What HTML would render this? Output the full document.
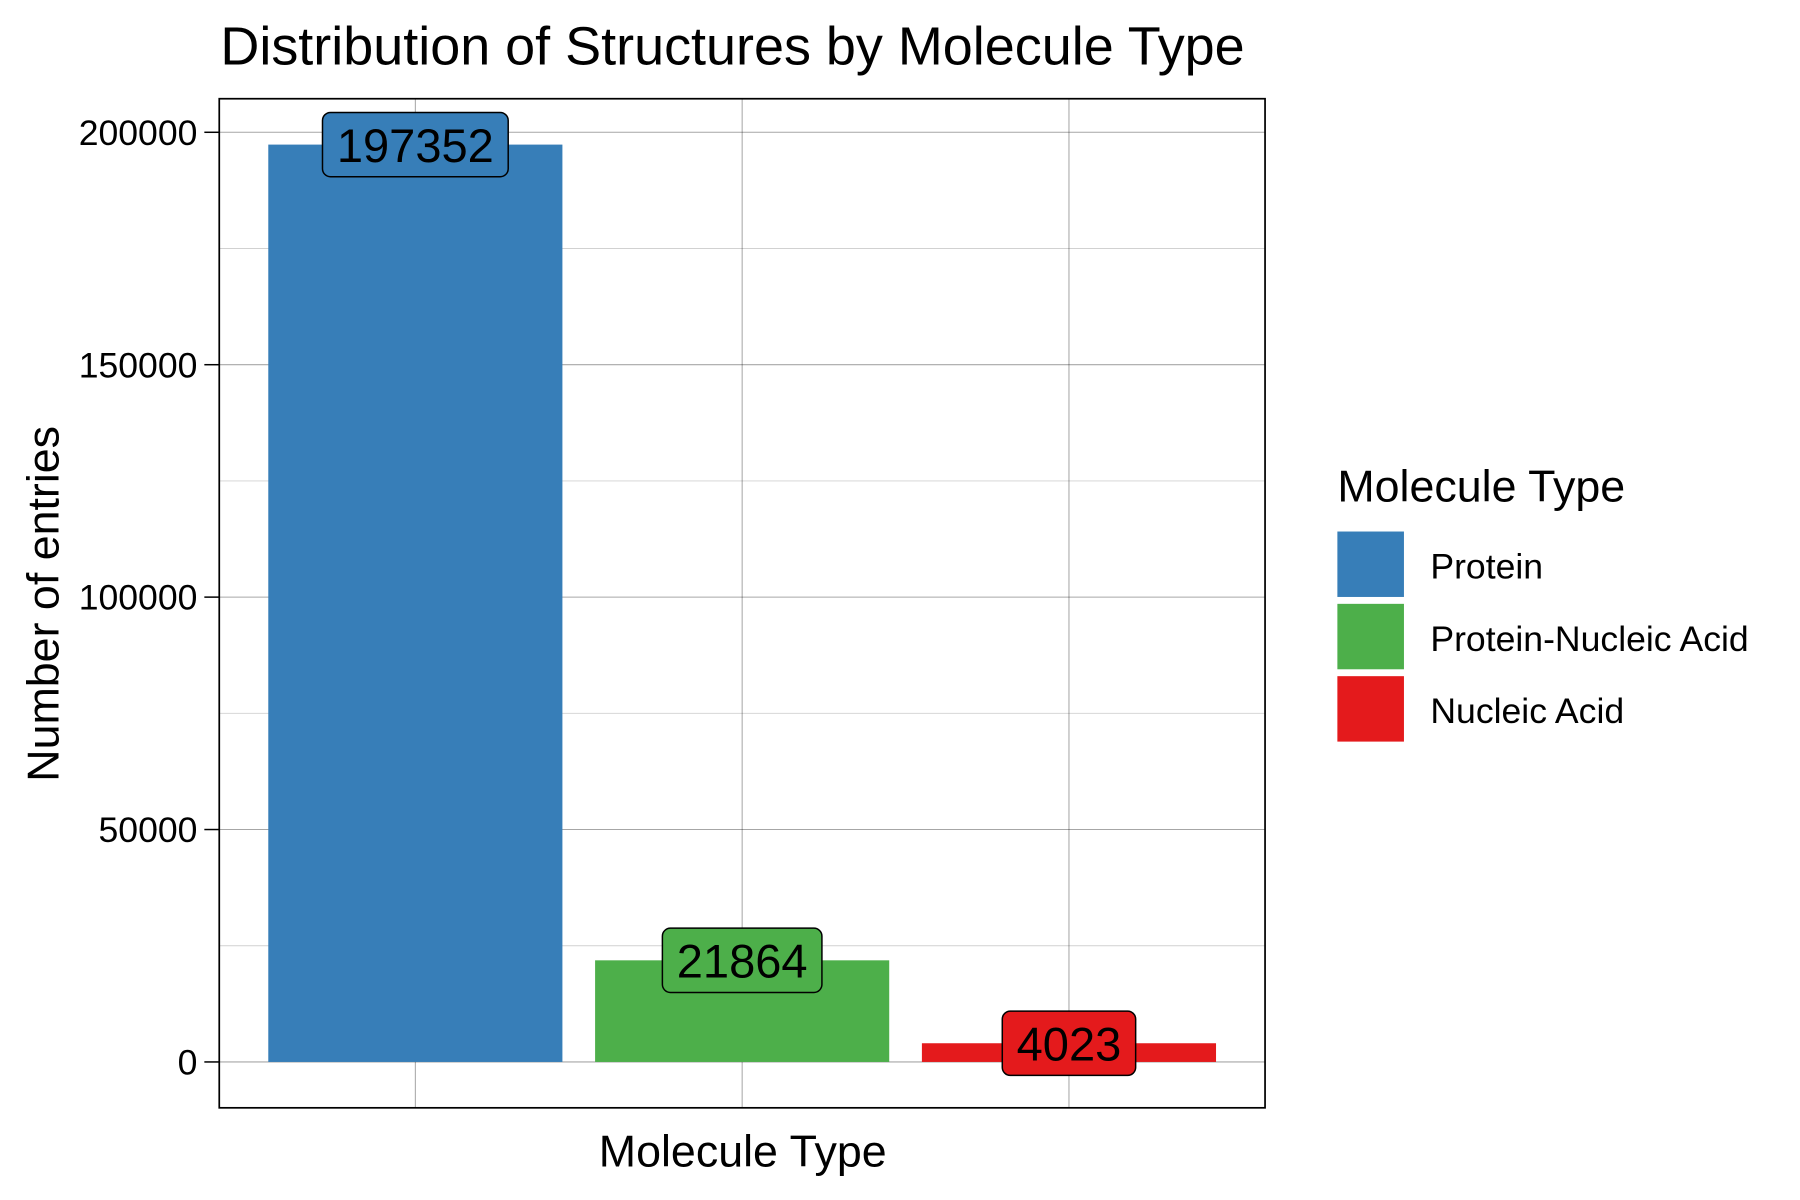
<!DOCTYPE html>
<html><head><meta charset="utf-8"><style>html,body{margin:0;padding:0;background:#fff;}svg{display:block;}text{font-family:"Liberation Sans",sans-serif;}</style></head>
<body>
<svg id="chart" width="1800" height="1200" viewBox="0 0 1568 1045.3" preserveAspectRatio="none" xmlns="http://www.w3.org/2000/svg">
<text x="192" y="56" font-size="47">Distribution of Structures by Molecule Type</text>
<g id="grid"></g><g id="bars"></g><g id="labels"></g><g id="axes"></g>
<rect x="191" y="86" width="911" height="879" fill="none" stroke="#000" stroke-width="1.5"/>
<text transform="translate(51,526) rotate(-90)" text-anchor="middle" font-size="39">Number of entries</text>
<text x="647" y="1016" text-anchor="middle" font-size="39">Molecule Type</text>
<g id="legend"><text x="1165" y="437" font-size="39">Molecule Type</text></g>
</svg>
<script>
const categories = ["Protein", "Protein-Nucleic Acid", "Nucleic Acid"];
const values = [197352, 21864, 4023];
const colors = ["#377EB8", "#4DAF4A", "#E41A1C"];
const yTicks = [0, 50000, 100000, 150000, 200000];
const yMinor = [25000, 75000, 125000, 175000];

const NS = "http://www.w3.org/2000/svg";
const L = 191, R = 1102, T = 86, B = 965;
const maxV = Math.max(...values);
const yLo = -0.05 * maxV, yHi = 1.05 * maxV;
const y = v => B - (v - yLo) / (yHi - yLo) * (B - T);
const unit = (R - L) / (categories.length + 0.2);
const x = i => L + (i + 0.6) * unit;
function mk(tag, attrs, parent) { const e = document.createElementNS(NS, tag); for (const k in attrs) e.setAttribute(k, attrs[k]); parent.appendChild(e); return e; }
const grid = document.getElementById('grid'), bars = document.getElementById('bars'), labels = document.getElementById('labels'), axes = document.getElementById('axes'), legend = document.getElementById('legend');
yMinor.forEach(v => { const l = mk('line', {x1: L, x2: R, y1: y(v), y2: y(v), stroke: '#000', 'stroke-opacity': 0.18, 'stroke-width': 0.8}, grid);

 });
yTicks.forEach(v => { const l = mk('line', {x1: L, x2: R, y1: y(v), y2: y(v), stroke: '#000', 'stroke-opacity': 0.35, 'stroke-width': 0.9}, grid);


const t = mk('line', {x1: L - 13, x2: L, y1: y(v), y2: y(v), stroke: '#000', 'stroke-width': 1.3}, axes);


const tx = mk('text', {x: L - 19, y: y(v) + 11, 'text-anchor': 'end', 'font-size': 31}, axes);
tx.textContent = v;

 });
categories.forEach((c, i) => {
  const g = mk('line', {x1: x(i), x2: x(i), y1: T, y2: B, stroke: '#000', 'stroke-opacity': 0.35, 'stroke-width': 0.9}, grid);
  
  
  const w = unit * 0.9;
  const b = mk('rect', {x: x(i) - w / 2, y: Math.min(y(values[i]), y(0)), width: w, height: Math.abs(y(0) - y(values[i])), fill: colors[i]}, bars);
  
  
  const txt = String(values[i]);
  const tw = txt.length * 0.556 * 41;
  const bw = tw + 25, bh = 56;
  const box = mk('rect', {x: x(i) - bw / 2, y: y(values[i]) - bh / 2, width: bw, height: bh, rx: 7, fill: colors[i], stroke: '#000', 'stroke-width': 1.3}, labels);
  
  
  const lt = mk('text', {x: x(i), y: y(values[i]) + 15, 'text-anchor': 'middle', 'font-size': 41}, labels);
  lt.textContent = txt;
  
  
  const k = mk('rect', {x: 1165, y: 463 + i * 63, width: 58, height: 57, fill: colors[i]}, legend);
  
  
  const kt = mk('text', {x: 1246, y: 504 + i * 63, 'font-size': 31}, legend);
  kt.textContent = c;
  
  
});
</script>
</body></html>
